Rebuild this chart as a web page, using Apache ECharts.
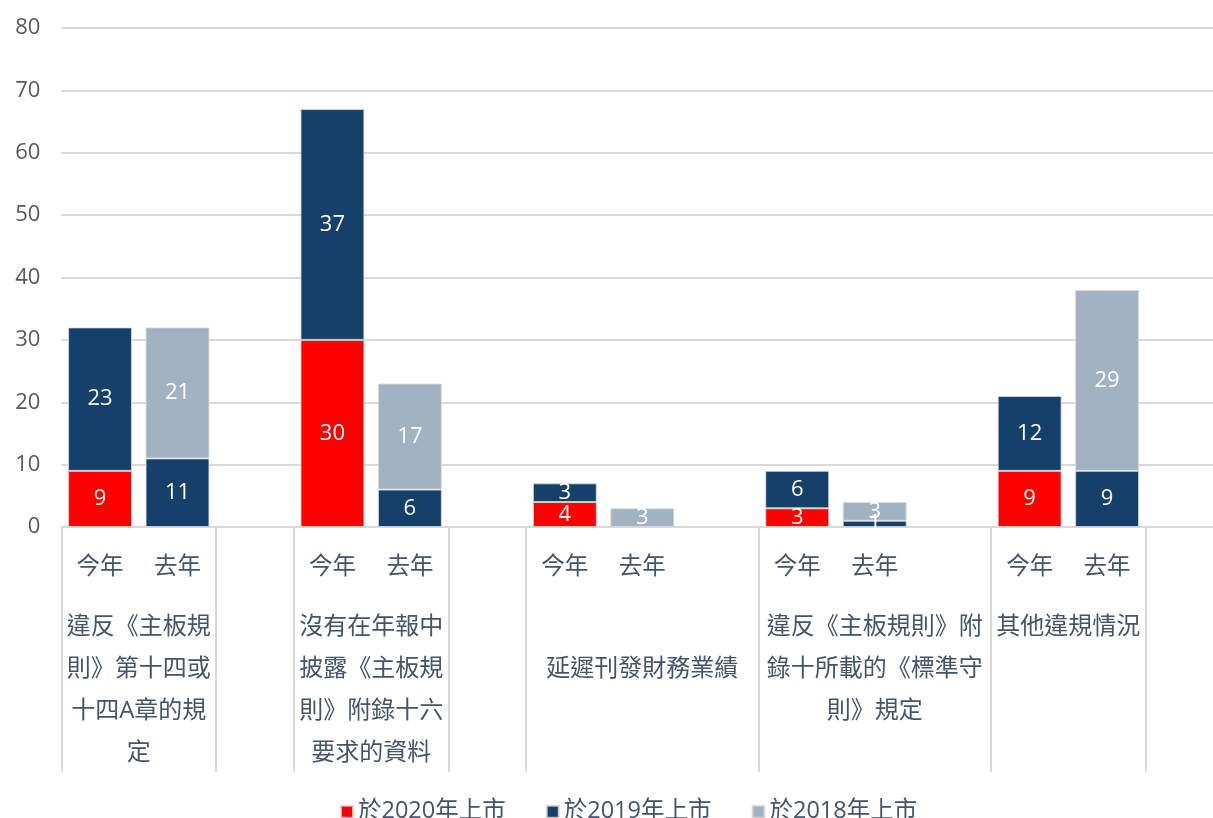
<!DOCTYPE html>
<html><head><meta charset="utf-8">
<script src="https://cdn.jsdelivr.net/npm/echarts@6/dist/echarts.min.js"></script>
<style>html,body{margin:0;padding:0;background:#fff}#c{width:1213px;height:818px}</style>
</head><body><div id="c"></div>
<script>
// ---- data ----
const groupLabels = [
  '違反《主板規\n則》第十四或\n十四A章的規\n定',
  '沒有在年報中\n披露《主板規\n則》附錄十六\n要求的資料',
  '\n延遲刊發財務業績',
  '違反《主板規則》附\n錄十所載的《標準守\n則》規定',
  '其他違規情況'
];
const subLabels = ['今年', '去年', ''];
const seriesNames = ['於2020年上市', '於2019年上市', '於2018年上市'];
const thisYear2020 = [9, 30, 4, 3, 9];
const thisYear2019 = [23, 37, 3, 6, 12];
const lastYear2019 = [11, 6, 0, 1, 9];
const lastYear2018 = [21, 17, 3, 3, 29];
const yMin = 0, yMax = 80, yStep = 10;

// ---- build slots ----
const cats = [], s2020 = [], s2019 = [], s2018 = [];
groupLabels.forEach((g, i) => {
  subLabels.forEach(s => cats.push(s));
  s2020.push(thisYear2020[i], null, null);
  s2019.push(thisYear2019[i], lastYear2019[i], null);
  s2018.push(null, lastYear2018[i], null);
});
// outer axis: points at half-slot resolution (boundaryGap false)
const nPts = cats.length * 2 + 1;
const labelPts = [2, 8, 15, 21, 26];
const sepPts = [0, 4, 6, 10, 12, 18, 24, 28, 30];
const outerData = [];
for (let k = 0; k < nPts; k++) outerData.push('');
labelPts.forEach((p, i) => outerData[p] = groupLabels[i]);

const FONT = "'Open Sans', 'Noto Sans CJK TC', sans-serif";
const colors = ['#FF0000', '#14406A', '#A1B3C3'];
const grid = '#D9D9D9';

const mk = (name, data, c) => ({
  name, type: 'bar', stack: 'a', data, barCategoryGap: '17.5%',
  itemStyle: { color: c, borderColor: 'rgba(217,217,217,0.8)', borderWidth: 1 },
  label: { show: true, position: 'inside', color: '#fff', fontSize: 22, fontFamily: FONT,
           formatter: p => (p.value ? String(p.value) : '') },
  emphasis: { disabled: true }
});

const chart = echarts.init(document.getElementById('c'), null, { renderer: 'canvas' });
chart.setOption({
  animation: false,
  backgroundColor: '#fff',
  color: colors,
  grid: { left: 61.3, width: 1162, top: 28, bottom: 291, containLabel: false, outerBoundsMode: 'none' },
  legend: {
    data: seriesNames, top: 795, left: 335, icon: 'rect', itemWidth: 12, itemHeight: 12, itemGap: 40,
    textStyle: { fontSize: 23.5, color: '#44546A', fontFamily: FONT }
  },
  xAxis: [
    { type: 'category', data: cats, position: 'bottom',
      axisLine: { lineStyle: { color: grid, width: 2 } }, axisTick: { show: false },
      axisLabel: { interval: 0, margin: 29, fontSize: 23.5, color: '#44546A', fontFamily: FONT } },
    { type: 'category', data: outerData, boundaryGap: false, position: 'bottom',
      axisLine: { show: false },
      axisTick: { show: true, length: 245, interval: (i) => sepPts.includes(i), lineStyle: { color: grid, width: 2 } },
      axisLabel: { interval: 0, margin: 79, fontSize: 24, lineHeight: 42, color: '#44546A', fontFamily: FONT, align: 'center', verticalAlign: 'top' },
      splitLine: { show: false } }
  ],
  yAxis: {
    type: 'value', min: yMin, max: yMax, interval: yStep,
    axisLine: { show: false }, axisTick: { show: false },
    axisLabel: { fontSize: 22, color: '#595959', margin: 21, fontFamily: FONT },
    splitLine: { lineStyle: { color: grid, width: 2 } }
  },
  series: [mk(seriesNames[0], s2020, colors[0]), mk(seriesNames[1], s2019, colors[1]), mk(seriesNames[2], s2018, colors[2])]
});
</script></body></html>
